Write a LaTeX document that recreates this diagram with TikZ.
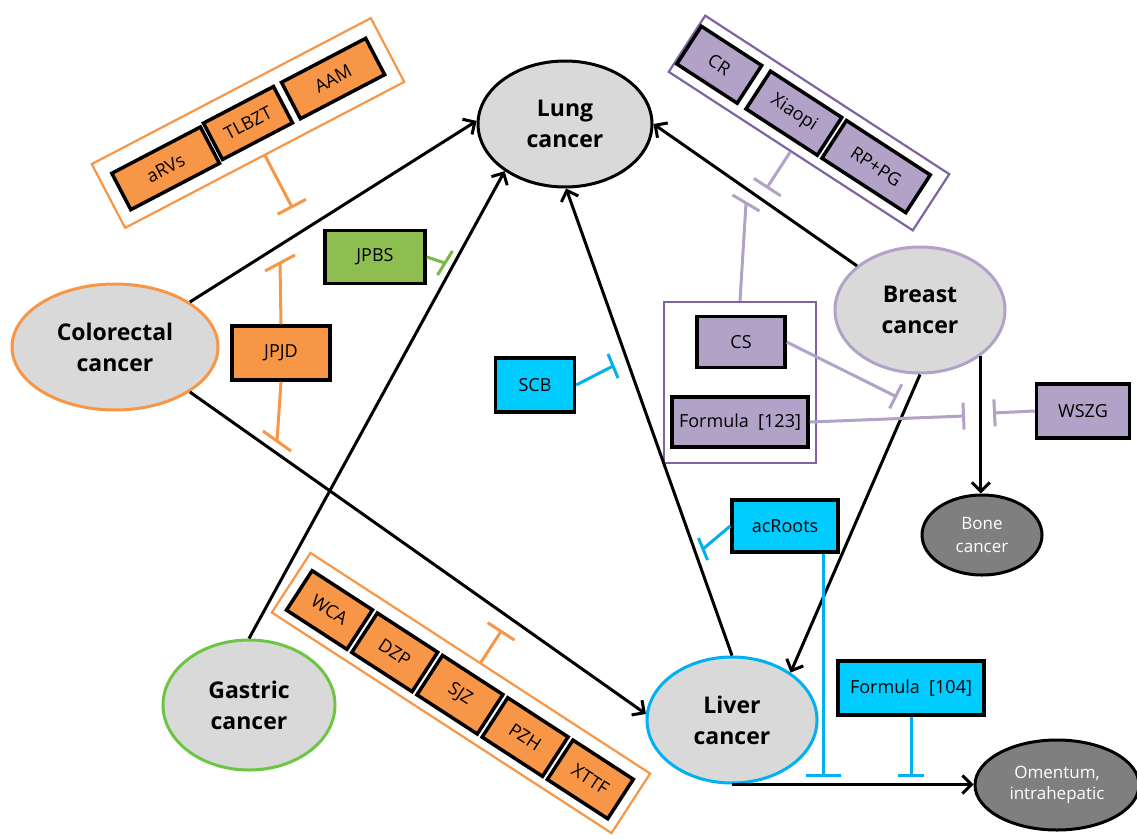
\documentclass[tikz,border=0pt]{standalone}
\usepackage{fontspec}
\setmainfont{Open Sans}
\usetikzlibrary{shapes.geometric,arrows.meta,calc}

\definecolor{cgray}{HTML}{D9D9D9}
\definecolor{metagray}{HTML}{7F7F7F}
\definecolor{orfill}{HTML}{F79646}
\definecolor{purfill}{HTML}{B3A2C7}
\definecolor{purdark}{HTML}{8064A2}
\definecolor{cyfill}{HTML}{00CCFF}
\definecolor{cyline}{HTML}{00B0F0}
\definecolor{grfill}{HTML}{8FBE50}
\definecolor{grline}{HTML}{6CC644}
\definecolor{grinhcol}{HTML}{7AB648}

\begin{document}
\begin{tikzpicture}[x=1pt,y=-1pt,
  cancer/.style={ellipse, line width=3pt, fill=cgray, inner sep=0pt, align=center,
    font=\fontsize{23}{31}\selectfont\bfseries},
  meta/.style={ellipse, draw=black, line width=3pt, fill=metagray, inner sep=0pt, align=center,
    text=white},
  drug/.style={rectangle, draw=black, line width=3.5pt, inner sep=0pt,
    font=\fontsize{18}{20}\selectfont},
  obox/.style={drug, fill=orfill},
  pbox/.style={drug, fill=purfill},
  cbox/.style={drug, fill=cyfill},
  gbox/.style={drug, fill=grfill},
  frame/.style={rectangle, line width=2.2pt, inner sep=0pt, fill=white},
  arr/.style={draw=black, line width=3pt, -{Straight Barb[length=9pt,width=18pt]}},
  orinh/.style={draw=orfill, line width=3pt},
  purinh/.style={draw=purfill, line width=3pt},
  cyinh/.style={draw=cyline, line width=3pt},
  grinh/.style={draw=grinhcol, line width=3pt}]

\useasboundingbox (0,0) rectangle (1137,838);

% ---------- herbal groups in rotated frames ----------
\begin{scope}[shift={(248,123)}, rotate=27.6, transform shape]
  \node[frame, draw=orfill, minimum width=315pt, minimum height=72pt] (grpA) at (0,0) {};
  \node[obox, minimum width=100pt, minimum height=41pt] (arvs) at (-94,2) {aRVs};
  \node[obox, minimum width=79pt, minimum height=41pt] (tlbzt) at (0,0) {TLBZT};
  \node[obox, minimum width=95pt, minimum height=41pt] (aam) at (96,0) {AAM};
  \coordinate (grpAbar) at (0,96);
\end{scope}

\begin{scope}[shift={(461,693)}, rotate=-33, transform shape]
  \node[frame, draw=orfill, minimum width=405pt, minimum height=71pt] (grpB) at (0,0) {};
  \node[obox, minimum width=72pt, minimum height=47pt] (wca) at (-155.5,2) {WCA};
  \node[obox, minimum width=72pt, minimum height=47pt] (dzp) at (-77.75,2) {DZP};
  \node[obox, minimum width=72pt, minimum height=47pt] (sjz) at (0,2) {SJZ};
  \node[obox, minimum width=72pt, minimum height=47pt] (pzh) at (77.75,2) {PZH};
  \node[obox, minimum width=72pt, minimum height=47pt] (xttf) at (155.5,2) {XTTF};
  \coordinate (grpBbar) at (0,-75);
\end{scope}

\begin{scope}[shift={(809,123)}, rotate=-33, transform shape]
  \node[frame, draw=purdark, minimum width=291pt, minimum height=67pt] (grpC) at (0,0) {};
  \node[pbox, minimum width=72pt, minimum height=45pt] (cr) at (-107,0) {CR};
  \node[pbox, minimum width=85pt, minimum height=45pt] (xiaopi) at (-18,0) {Xiaopi};
  \node[pbox, minimum width=100pt, minimum height=45pt] (rppg) at (80,0) {RP+PG};
  \coordinate (grpCbar) at (0,78);
\end{scope}

% ---------- cancers ----------
\node[cancer, draw=black, minimum width=174pt, minimum height=126pt] (lung) at (565,124) {Lung\\cancer};
\node[cancer, draw=orfill, minimum width=206pt, minimum height=126pt] (colo) at (115,347) {Colorectal\\cancer};
\node[cancer, draw=purfill, minimum width=170pt, minimum height=126pt] (breast) at (920,310) {Breast\\cancer};
\node[cancer, draw=grline, minimum width=172pt, minimum height=130pt] (gastric) at (249,705) {Gastric\\cancer};
\node[cancer, draw=cyline, minimum width=170pt, minimum height=126pt] (liver) at (732,720) {Liver\\cancer};
\node[meta, minimum width=120pt, minimum height=80pt, font=\fontsize{17}{23}\selectfont] (bone) at (982,535) {Bone\\cancer};
\node[meta, minimum width=164pt, minimum height=90pt, font=\fontsize{17}{21}\selectfont] (omentum) at (1057,785) {Omentum,\\intrahepatic};

% ---------- single herbs and formulas ----------
\node[frame, draw=purdark, minimum width=152pt, minimum height=161pt] (pgrp) at (740,382.5) {};
\node[pbox, minimum width=88pt, minimum height=51pt] (cs) at (741,342) {CS};
\node[pbox, minimum width=136pt, minimum height=50pt] (f123) at (740,422) {Formula\ \ [123]};
\node[pbox, minimum width=93pt, minimum height=54pt] (wszg) at (1083,411) {WSZG};
\node[cbox, minimum width=106pt, minimum height=52pt] (acroots) at (785,526) {acRoots};
\node[cbox, minimum width=146pt, minimum height=54pt] (f104) at (911,688) {Formula\ \ [104]};
\node[cbox, minimum width=79pt, minimum height=54pt] (scb) at (535,385) {SCB};
\node[obox, minimum width=98pt, minimum height=54pt] (jpjd) at (281,353) {JPJD};
\node[gbox, minimum width=100pt, minimum height=53pt] (jpbs) at (375,257) {JPBS};

% ---------- metastasis routes ----------
\draw[arr] (colo.31.6) -- (lung.178);
\draw[arr] (colo.-31.6) -- (liver.176.7);
\draw[arr] (gastric.90) -- (lung.-142);
\draw[arr] (liver.90) -- (lung.-89);
\draw[arr] (breast.145.7) -- (lung.0);
\draw[arr] (breast.-90) -- (liver.39);
\draw[arr] (breast.-37) -- (breast.-37 |- bone.north);
\draw[arr] (liver.south) -- (liver.south -| omentum.west);

% ---------- inhibition marks ----------
\coordinate (jpjdT) at (280,263);
\coordinate (jpjdB) at (277,441);
\coordinate (jpbsE) at (445,263);
\coordinate (scbE) at (613,366);
\coordinate (csE) at (897,397);
\coordinate (f123E) at (965,416);
\coordinate (wszgE) at (993,413);
\coordinate (pgrpE) at (746,203);
\coordinate (acL) at (703,549);
\coordinate (acB) at (823,777);
\coordinate (f104E) at (911,777);

\draw[orinh, -{Bar[width=32pt]}] (grpA.south) -- (grpAbar);
\draw[orinh, -{Bar[width=32pt]}] (grpB.north) -- (grpBbar);
\draw[purinh, -{Bar[width=32pt]}] (grpC.south) -- (grpCbar);

\draw[orinh] (jpjd.north) -- (jpjdT);
\draw[orinh] ($(jpjdT)+(-15,8)$) -- ($(jpjdT)+(15,-8)$);
\draw[orinh] (jpjd.south) -- (jpjdB);
\draw[orinh] ($(jpjdB)+(-14,-10)$) -- ($(jpjdB)+(14,10)$);

\draw[grinh] (jpbs.east) -- (jpbsE);
\draw[grinh] ($(jpbsE)+(-7.5,12)$) -- ($(jpbsE)+(7.5,-12)$);

\draw[cyinh] (scb.east) -- (scbE);
\draw[cyinh] ($(scbE)+(-5,-12)$) -- ($(scbE)+(5,12)$);

\draw[cyinh] (acroots.west) -- (acL);
\draw[cyinh] ($(acL)+(-4.5,-11)$) -- ($(acL)+(4.5,11)$);
\draw[cyinh, -{Bar[width=35pt]}] (acroots.south -| acB) -- (acB);
\draw[cyinh, -{Bar[width=26pt]}] (f104.south) -- (f104E);

\draw[purinh, -{Bar[width=27pt]}] (cs.east) -- (csE);
\draw[purinh, -{Bar[width=27pt]}] (f123.east) -- (f123E);
\draw[purinh, -{Bar[width=27pt]}] (wszg.west) -- (wszgE);
\draw[purinh] (pgrp.north) -- (pgrpE);
\draw[purinh] ($(pgrpE)+(-13.5,-8)$) -- ($(pgrpE)+(13.5,8)$);

\end{tikzpicture}
\end{document}
